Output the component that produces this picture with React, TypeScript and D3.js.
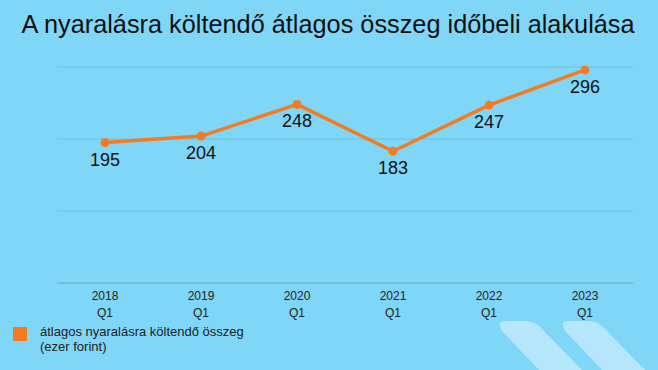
import React, { useEffect, useRef } from "react";
import * as d3 from "d3";

const years = ["2018", "2019", "2020", "2021", "2022", "2023"];
const quarters = ["Q1", "Q1", "Q1", "Q1", "Q1", "Q1"];
const values = [195, 204, 248, 183, 247, 296];
const gridTicks = [0, 100, 200, 300];

const title = "A nyaralásra költendő átlagos összeg időbeli alakulása";
const legendLines = ["átlagos nyaralásra költendő összeg", "(ezer forint)"];

const W = 658;
const H = 370;
const margin = { top: 67, right: 25, bottom: 87, left: 57 };
const orange = "#f47b20";
const font = "Liberation Sans, Arial, sans-serif";

const App = () => {
  const ref = useRef<SVGSVGElement>(null);

  useEffect(() => {
    const svg = d3.select(ref.current);
    svg.selectAll("*").remove();
    const width = W - margin.left - margin.right;
    const height = H - margin.top - margin.bottom;

    svg.append("rect").attr("width", W).attr("height", H).attr("fill", "#7fd6f7");

    // decorative stripes bottom right
    const stripes = svg.append("g").attr("fill", "#b6e6fa");
    [0, 63].forEach(dx => {
      stripes
        .append("path")
        .attr(
          "d",
          `M${505 + dx},321 L${526 + dx},321 Q${534 + dx},321 ${540 + dx},327 L${584 + dx},372 L${541 + dx},372 L${502 + dx},331 Q${496 + dx},321 ${505 + dx},321 Z`
        );
    });

    svg
      .append("text")
      .attr("x", W / 2 - 1)
      .attr("y", 33)
      .attr("text-anchor", "middle")
      .attr("font-family", font)
      .attr("font-size", 25.3)
      .attr("fill", "#111")
      .text(title);

    const g = svg.append("g").attr("transform", `translate(${margin.left},${margin.top})`);

    const x = d3.scaleBand().domain(years).range([0, width]);
    const y = d3.scaleLinear().domain([0, 300]).range([height, 0]);

    g.selectAll(".grid")
      .data(gridTicks)
      .enter()
      .append("line")
      .attr("x1", 0)
      .attr("x2", width)
      .attr("y1", d => y(d))
      .attr("y2", d => y(d))
      .attr("stroke", d => (d === 0 ? "#5fa9c8" : "#6cc0e2"))
      .attr("stroke-width", 1);

    const cx = (d: string) => (x(d) as number) + x.bandwidth() / 2;

    const labels = g.append("g").attr("font-family", font).attr("font-size", 12).attr("fill", "#222").attr("text-anchor", "middle");
    years.forEach((yr, i) => {
      labels.append("text").attr("x", cx(yr)).attr("y", height + 17).text(yr);
      labels.append("text").attr("x", cx(yr)).attr("y", height + 34).text(quarters[i]);
    });

    const line = d3
      .line<number>()
      .x((_, i) => cx(years[i]))
      .y(d => y(d));

    g.append("path")
      .datum(values)
      .attr("d", line)
      .attr("fill", "none")
      .attr("stroke", orange)
      .attr("stroke-width", 3.5)
      .attr("stroke-linejoin", "round");

    g.selectAll(".pt")
      .data(values)
      .enter()
      .append("circle")
      .attr("cx", (_, i) => cx(years[i]))
      .attr("cy", d => y(d))
      .attr("r", 4.5)
      .attr("fill", orange);

    g.selectAll(".val")
      .data(values)
      .enter()
      .append("text")
      .attr("x", (_, i) => cx(years[i]))
      .attr("y", d => y(d) + 23)
      .attr("text-anchor", "middle")
      .attr("font-family", font)
      .attr("font-size", 18)
      .attr("fill", "#111")
      .text(d => d);

    svg.append("rect").attr("x", 13).attr("y", 327).attr("width", 14).attr("height", 14).attr("fill", orange);
    legendLines.forEach((t, i) => {
      svg
        .append("text")
        .attr("x", 40)
        .attr("y", 336 + i * 15)
        .attr("font-family", font)
        .attr("font-size", 13)
        .attr("fill", "#222")
        .text(t);
    });
  }, []);

  return <svg ref={ref} width={W} height={H} style={{ position: "absolute", left: 0, top: 0 }} />;
};

export default App;
